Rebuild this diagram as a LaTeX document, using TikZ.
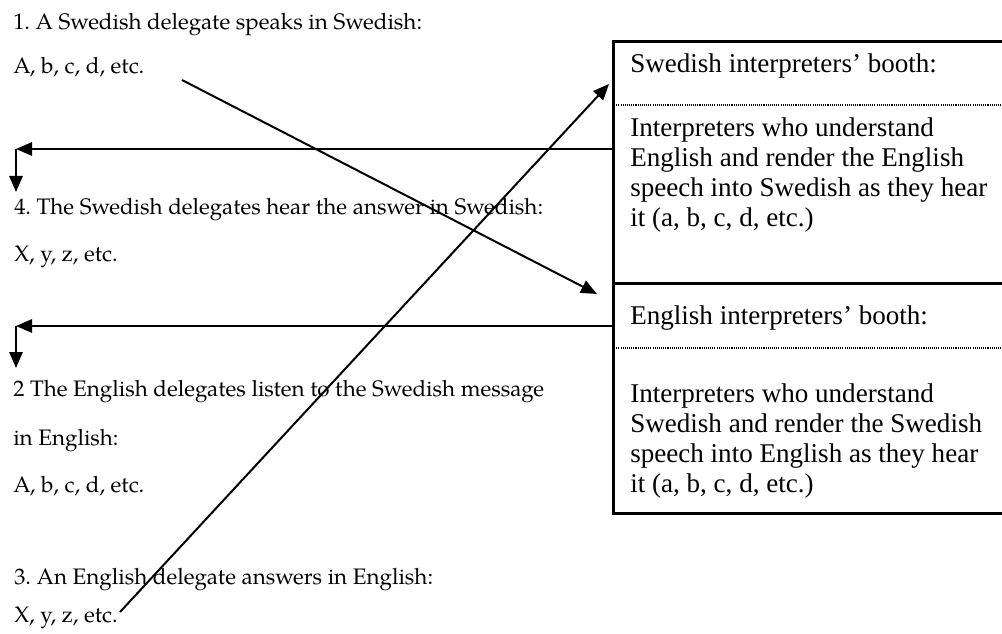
\documentclass[tikz,border=0pt]{standalone}
\usepackage{fontspec}
\setmainfont{Liberation Serif}
\newfontfamily\pal{TeX Gyre Pagella}
\usetikzlibrary{arrows.meta}
\frenchspacing
\begin{document}
\begin{tikzpicture}[x=0.75pt,y=-0.75pt,
  lt/.style={anchor=base west, inner sep=0pt, font=\pal\fontsize{16.8}{19}\selectfont},
  bt/.style={anchor=base west, inner sep=0pt, font=\fontsize{20.3}{23}\selectfont},
  arr/.style={line width=1.5pt, -{Triangle[length=12pt,width=10pt]}},
  booth/.style={draw, line width=2.4pt, minimum width=300pt, anchor=north west, inner sep=0pt},
  sep/.style={line width=0.8pt, dash pattern=on 0.8pt off 0.8pt}]
\useasboundingbox (0,0) rectangle (1002,634);
% booths
\node[booth, minimum height=181.5pt] (sw) at (612,40) {};
\node[booth, minimum height=172.5pt] (en) at (612,282) {};
\draw[sep] (612,105) -- (1002,105);
\draw[sep] (612,348) -- (1002,348);
\node[bt] (swt) at (630,73) {Swedish interpreters’ booth:};
\node[bt] (sw1) at (630,137) {Interpreters who understand};
\node[bt] (sw2) at (630,167) {English and render the English};
\node[bt] (sw3) at (630,197) {speech into Swedish as they hear};
\node[bt] (sw4) at (630,227) {it (a, b, c, d, etc.)};
\node[bt] (ent) at (630,325) {English interpreters’ booth:};
\node[bt] (en1) at (630,402) {Interpreters who understand};
\node[bt] (en2) at (630,432) {Swedish and render the Swedish};
\node[bt] (en3) at (630,462) {speech into English as they hear};
\node[bt] (en4) at (630,492) {it (a, b, c, d, etc.)};
% left texts
\node[lt] (l1) at (13,30) {1. A Swedish delegate speaks in Swedish:};
\node[lt] (l1b) at (13,74) {A, b, c, d, etc.};
\node[lt] (l4) at (14,215) {4. The Swedish delegates hear the answer in Swedish:};
\node[lt] (l4b) at (14,262) {X, y, z, etc.};
\node[lt] (l2) at (13,396) {2 The English delegates listen to the Swedish message};
\node[lt] (l2b) at (13,445) {in English:};
\node[lt] (l2c) at (13,492) {A, b, c, d, etc.};
\node[lt] (l3) at (14,584) {3. An English delegate answers in English:};
\node[lt] (l3b) at (14,622) {X, y, z, etc.};
% connectors
\coordinate (a1s) at (182,80);
\coordinate (a1e) at (597,294);
\draw[arr] (a1s) -- (a1e);
\coordinate (a2s) at (120,612);
\coordinate (a2e) at (609,84);
\draw[arr] (a2s) -- (a2e);
\coordinate (h1) at (612,149);
\coordinate (k1) at (16,149);
\coordinate (d1) at (16,192);
\draw[arr] (h1) -- (k1);
\draw[arr] (k1) -- (d1);
\coordinate (h2) at (612,326);
\coordinate (k2) at (16,326);
\coordinate (d2) at (16,368);
\draw[arr] (h2) -- (k2);
\draw[arr] (k2) -- (d2);
\end{tikzpicture}
\end{document}
